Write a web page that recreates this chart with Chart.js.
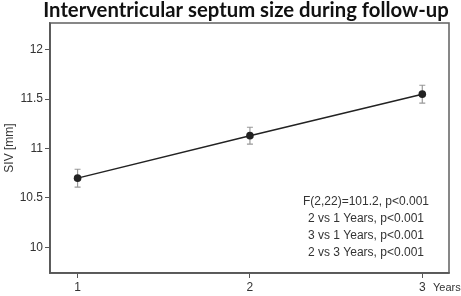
<!DOCTYPE html>
<html>
<head>
<meta charset="utf-8">
<script src="https://cdn.jsdelivr.net/npm/chart.js@4/dist/chart.umd.min.js"></script>
<style>
  html, body { margin: 0; padding: 0; background: #fff; }
  #wrap { width: 461px; height: 296px; }
</style>
</head>
<body>
<div id="wrap"><canvas id="septumChart" width="461" height="296"></canvas></div>
<script>
// values
const years = [1, 2, 3];
const sivMean = [10.70, 11.13, 11.55];
const sivErr = [0.09, 0.085, 0.09];
const yTicks = [10, 10.5, 11, 11.5, 12];
const statLines = [
    'F(2,22)=101.2, p<0.001',
    '2 vs 1 Years, p<0.001',
    '3 vs 1 Years, p<0.001',
    '2 vs 3 Years, p<0.001'
];

const axisColor = '#555';
const textFont = '"Liberation Sans", Arial, sans-serif';

// gray whiskers with caps, drawn under the points
const errorBars = {
    id: 'errorBars',
    beforeDatasetsDraw(chart) {
        const { ctx, scales: { x, y } } = chart;
        ctx.save();
        ctx.strokeStyle = '#999';
        ctx.lineWidth = 1.2;
        years.forEach((yr, i) => {
            const px = x.getPixelForValue(yr);
            const top = y.getPixelForValue(sivMean[i] + sivErr[i]);
            const bot = y.getPixelForValue(sivMean[i] - sivErr[i]);
            ctx.beginPath();
            ctx.moveTo(px, top); ctx.lineTo(px, bot);
            ctx.moveTo(px - 3, top); ctx.lineTo(px + 3, top);
            ctx.moveTo(px - 3, bot); ctx.lineTo(px + 3, bot);
            ctx.stroke();
        });
        ctx.restore();
    }
};

// box, title, axis names and the stats box
const decorations = {
    id: 'decorations',
    afterDraw(chart) {
        const { ctx, chartArea: a } = chart;
        ctx.save();
        ctx.strokeStyle = '#6a6a6a';
        ctx.lineWidth = 1.6;
        ctx.strokeRect(a.left, a.top, a.right - a.left, a.bottom - a.top);
        ctx.fillStyle = axisColor;
        ctx.fillRect(a.left - 0.75, a.top, 1.5, a.bottom - a.top);
        ctx.fillRect(a.left, a.bottom - 0.75, a.right - a.left, 1.5);

        ctx.fillStyle = '#111';
        ctx.font = 'bold 20px Lato, sans-serif';
        const title = 'Interventricular septum size during follow-up';
        const w = ctx.measureText(title).width;
        ctx.font = 'bold ' + (20 * 406 / w).toFixed(2) + 'px Lato, sans-serif';
        ctx.textAlign = 'center';
        ctx.textBaseline = 'alphabetic';
        ctx.fillText(title, 246, 17);

        ctx.fillStyle = '#333';
        ctx.font = '12px ' + textFont;
        ctx.textBaseline = 'middle';
        statLines.forEach((s, i) => ctx.fillText(s, 366, 202 + i * 16.8));

        ctx.save();
        ctx.translate(10, 148);
        ctx.rotate(-Math.PI / 2);
        ctx.fillText('SIV [mm]', 0, 0);
        ctx.restore();

        ctx.font = '11px ' + textFont;
        ctx.textAlign = 'left';
        ctx.fillText('Years', 433, 288);
        ctx.restore();
    }
};

new Chart(document.getElementById('septumChart'), {
    type: 'line',
    data: {
        datasets: [{
            data: years.map((yr, i) => ({ x: yr, y: sivMean[i] })),
            borderColor: '#222',
            borderWidth: 1.5,
            backgroundColor: '#222',
            pointRadius: 3.8,
            pointBorderWidth: 0,
            tension: 0
        }]
    },
    options: {
        responsive: false,
        animation: false,
        layout: { padding: { top: 23, right: 12, left: 0, bottom: 0 } },
        plugins: { legend: { display: false }, tooltip: { enabled: false } },
        scales: {
            x: {
                type: 'linear',
                min: 0.84,
                max: 3.155,
                afterBuildTicks: s => { s.ticks = years.map(v => ({ value: v })); },
                afterFit: s => { s.height = 23; },
                grid: { display: true, drawOnChartArea: false, drawTicks: true, tickLength: 5, color: axisColor },
                border: { display: true, color: axisColor, width: 1.5 },
                ticks: { color: '#333', font: { family: textFont, size: 12 }, padding: 2, maxRotation: 0,
                         callback: v => String(v) }
            },
            y: {
                min: 9.74,
                max: 12.27,
                afterBuildTicks: s => { s.ticks = yTicks.map(v => ({ value: v })); },
                afterFit: s => { s.width = 50; },
                grid: { display: true, drawOnChartArea: false, drawTicks: true, tickLength: 5, color: axisColor },
                border: { display: true, color: axisColor, width: 1.5 },
                ticks: { color: '#333', font: { family: textFont, size: 12 }, padding: 2,
                         callback: v => String(v) }
            }
        }
    },
    plugins: [errorBars, decorations]
});
</script>
</body>
</html>
